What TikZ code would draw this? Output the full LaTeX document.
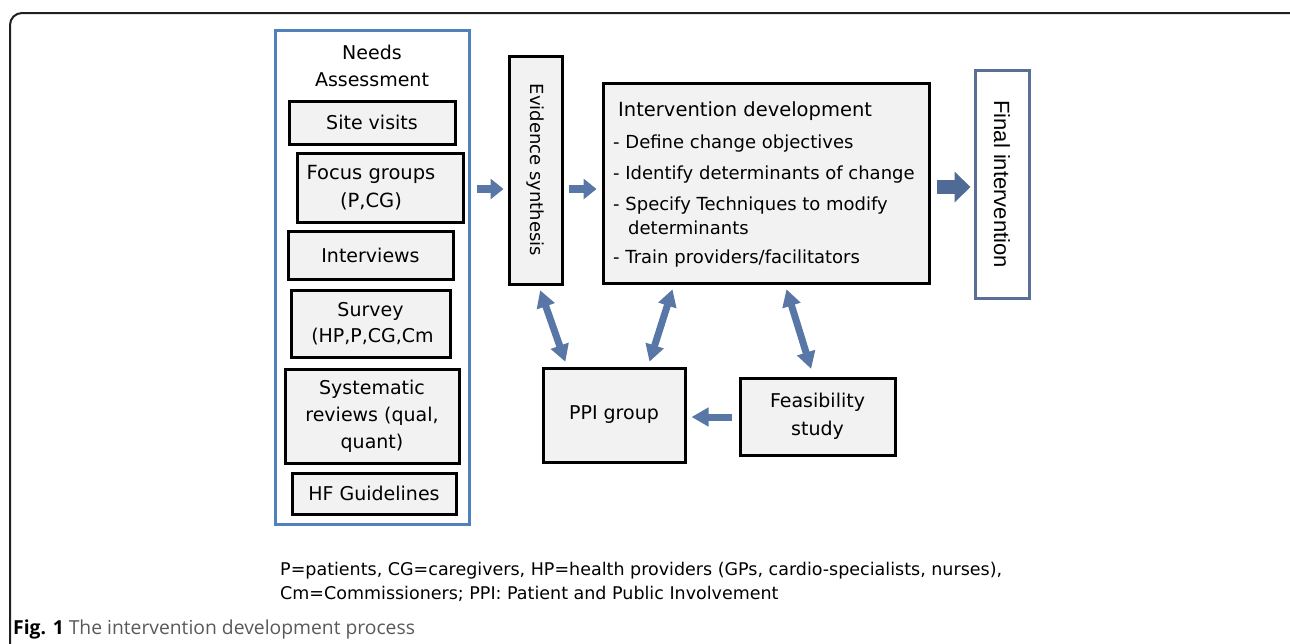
\documentclass[tikz,border=0pt]{standalone}
\usepackage{fontspec}
\setmainfont{DejaVu Sans}
\newfontfamily\arialfont{Liberation Sans}
\newfontfamily\capfont{Open Sans}
\usetikzlibrary{arrows.meta}

\definecolor{needsblue}{RGB}{79,129,189}
\definecolor{arrowblue}{RGB}{88,118,166}
\definecolor{finalblue}{RGB}{90,110,150}
\definecolor{boxgray}{RGB}{242,242,242}
\definecolor{capgray}{RGB}{88,89,91}
\definecolor{framecol}{RGB}{35,31,32}

\begin{document}
\begin{tikzpicture}[x=1pt, y=-1pt,
  every node/.style={font=\fontsize{19}{26}\selectfont},
  item/.style={draw=black, line width=3pt, fill=boxgray, align=center, inner sep=0pt},
  flow/.style={draw=arrowblue, line width=8pt, -{Triangle[width=20pt,length=13pt]}},
  bigflow/.style={draw=arrowblue!90!black, line width=14pt, -{Triangle[width=30pt,length=16pt]}},
  link/.style={draw=arrowblue, line width=7pt, {Triangle[width=18pt,length=17pt]}-{Triangle[width=18pt,length=17pt]}}]
\useasboundingbox (0,0) rectangle (1290,643);
\clip (0,0) rectangle (1290,643);
% outer frame
\draw[line width=2pt, framecol, rounded corners=12pt] (10,700) -- (10,13) -- (1302,13) -- (1302,700);

% needs assessment column
\node[draw=needsblue, line width=3pt, minimum width=194pt, minimum height=494pt, inner sep=0pt] (needs) at (372,277) {};
\node[align=center, font=\fontsize{19}{27}\selectfont] (needstitle) at (372,66) {Needs\\Assessment};
\node[item, minimum width=166pt, minimum height=43pt] (site) at (372,122.5) {Site visits};
\node[item, minimum width=166pt, minimum height=69pt, font=\fontsize{19.5}{28}\selectfont] (focus) at (380,187.5) {Focus groups\hspace*{18pt}\\(P,CG)\hspace*{18pt}};
\node[item, minimum width=165pt, minimum height=48pt] (interviews) at (370.5,255) {Interviews};
\node[item, minimum width=159pt, minimum height=67pt] (survey) at (370.5,323.5) {Survey\\\hspace*{4pt}(HP,P,CG,Cm};
\node[item, minimum width=174pt, minimum height=94pt, font=\fontsize{19}{27}\selectfont] (sysrev) at (372,416) {Systematic\\reviews (qual,\\quant)};
\node[item, minimum width=164pt, minimum height=41pt] (hfg) at (374,493.5) {HF Guidelines};

% middle and right
\node[item, rotate=-90, minimum width=228pt, minimum height=53pt, font=\fontsize{18}{22}\selectfont] (evidence) at (535.5,170) {Evidence synthesis};
\node[item, minimum width=326pt, minimum height=200pt] (intdev) at (766,183) {};
\node[anchor=north west, inner sep=0pt, align=left, font=\fontsize{18}{24}\selectfont] (intdevtext) at (613,101) {%
  \hspace*{5pt}{\fontsize{19.5}{24}\selectfont Intervention development}\\[8pt]
  - Define change objectives\\[7pt]
  - Identify determinants of change\\[7pt]
  - Specify Techniques to modify\\
  \hspace*{15pt}determinants\\[5pt]
  - Train providers/facilitators};
\node[draw=finalblue, line width=3pt, fill=white, rotate=-90, minimum width=228pt, minimum height=54pt, inner sep=0pt, font=\arialfont\fontsize{22}{26}\selectfont] (final) at (1002,184) {Final intervention};
\node[item, minimum width=142pt, minimum height=94pt] (ppi) at (614,415) {PPI group};
\node[item, minimum width=155pt, minimum height=77pt, font=\fontsize{19}{28}\selectfont] (feas) at (817.5,416.5) {Feasibility\\study};

% arrows (rotated nodes: south = left side, north = right side, east = bottom)
\coordinate (row) at (0,189);
\coordinate (row2) at (0,187);
\coordinate (row3) at (0,417);
\draw[flow, shorten <=6pt, shorten >=4pt] (needs.east |- row) -- (evidence.south |- row);
\draw[flow, shorten <=5pt, shorten >=5pt] (evidence.north |- row) -- (intdev.west |- row);
\draw[bigflow, shorten <=6pt, shorten >=3pt] (intdev.east |- row2) -- (final.south |- row2);
\draw[link, shorten <=5pt, shorten >=5pt] ([xshift=3pt]evidence.east) -- ([xshift=-47pt]ppi.north);
\draw[link, shorten <=5pt, shorten >=5pt] ([xshift=-92pt]intdev.south) -- ([xshift=34pt]ppi.north);
\draw[link, shorten <=5pt, shorten >=8pt] ([xshift=19pt]intdev.south) -- ([xshift=-4pt]feas.north);
\draw[draw=arrowblue, line width=7pt, -{Triangle[width=18pt,length=17pt]}, shorten <=7pt, shorten >=5pt] (feas.west |- row3) -- (ppi.east |- row3);

% caption
\node[anchor=north west, inner sep=0pt, align=left, font=\fontsize{17.5}{24}\selectfont] (notes) at (280,562) {P=patients, CG=caregivers, HP=health providers (GPs, cardio-specialists, nurses),\\Cm=Commissioners; PPI: Patient and Public Involvement};
\node[anchor=west, inner sep=0pt, font=\capfont\fontsize{19.3}{21}\selectfont] (caption) at (13,629) {\textbf{Fig. 1} \textcolor{capgray}{The intervention development process}};
\end{tikzpicture}
\end{document}
